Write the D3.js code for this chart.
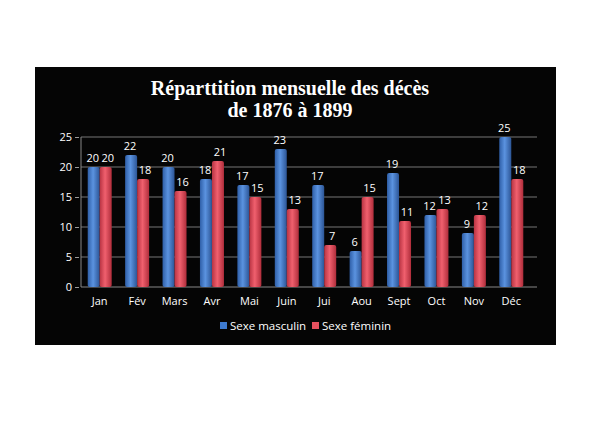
<!DOCTYPE html><html><head><meta charset="utf-8"><script src="https://cdn.jsdelivr.net/npm/d3@7"></script>
<style>body{margin:0;background:#fff}</style></head><body><svg id="c" width="600" height="436"></svg><script>
const months=["Jan","Fév","Mars","Avr","Mai","Juin","Jui","Aou","Sept","Oct","Nov","Déc"];
const male=[20,22,20,18,17,23,17,6,19,12,9,25];
const female=[20,18,16,21,15,13,7,15,11,13,12,18];
const yTicks=[0,5,10,15,20,25];
const svg=d3.select("#c");
const defs=svg.append("defs");
function grad(id,c1,c2,c3){const g=defs.append("linearGradient").attr("id",id);g.append("stop").attr("offset","0").attr("stop-color",c1);g.append("stop").attr("offset","0.45").attr("stop-color",c2);g.append("stop").attr("offset","1").attr("stop-color",c3);}
grad("gb","#2f5fa8","#5b93e0","#2c5596");grad("gr","#b83342","#f0606e","#b02d3b");
svg.append("rect").attr("x",35).attr("y",67).attr("width",521).attr("height",278).attr("fill","#050505");
svg.append("text").attr("x",290).attr("y",95).attr("text-anchor","middle").attr("fill","#fff").attr("font-family","Liberation Serif").attr("font-weight","bold").attr("font-size",20).text("Réparttition mensuelle des décès");
svg.append("text").attr("x",290).attr("y",117).attr("text-anchor","middle").attr("fill","#fff").attr("font-family","Liberation Serif").attr("font-weight","bold").attr("font-size",20).text("de 1876 à 1899");
const x=d3.scaleBand().domain(months).range([81,530]);
const y=d3.scaleLinear().domain([0,25]).range([287,137]);
const g=svg.append("g");
yTicks.forEach(t=>{g.append("line").attr("x1",81).attr("x2",537).attr("y1",y(t)).attr("y2",y(t)).attr("stroke",t==0?"#888":"#777").attr("stroke-width",1.2);});
g.append("line").attr("x1",81).attr("x2",81).attr("y1",y(0)).attr("y2",y(25)).attr("stroke","#888");
const ya=svg.append("g").attr("transform","translate(79,0)").call(d3.axisLeft(y).tickValues(yTicks).tickSize(4));
ya.select(".domain").remove();ya.selectAll("line").attr("stroke","#999");
ya.selectAll("text").attr("fill","#fff").attr("font-family","Open Sans").attr("font-size",11);
const xa=svg.append("g").attr("transform","translate(0,"+(y(0)+2)+")").call(d3.axisBottom(x).tickSize(0).tickPadding(8));
xa.select(".domain").remove();xa.selectAll("text").attr("fill","#fff").attr("font-family","Open Sans").attr("font-size",11);
const bw=12;
function bars(data,off,fill){
 svg.append("g").selectAll("rect").data(data).join("rect").attr("x",(d,i)=>x(months[i])+x.bandwidth()/2+off).attr("width",bw).attr("y",d=>y(d)).attr("height",d=>y(0)-y(d)).attr("rx",2).attr("fill",fill);
}
bars(male,-bw,"url(#gb)");bars(female,0,"url(#gr)");
function labels(data,off){svg.append("g").selectAll("text").data(data).join("text").attr("x",(d,i)=>x(months[i])+x.bandwidth()/2+off).attr("y",d=>y(d)-5).attr("text-anchor","middle").attr("fill","#fff").attr("font-family","Open Sans").attr("font-size",11).text(d=>d);}
labels(male,-bw/2-1);labels(female,bw/2+2);
const lg=svg.append("g");
lg.append("rect").attr("x",220).attr("y",322).attr("width",7).attr("height",7).attr("fill","#3d7ad0");
lg.append("text").attr("x",230).attr("y",330).attr("fill","#fff").attr("font-family","Open Sans").attr("font-size",11.5).text("Sexe masculin");
lg.append("rect").attr("x",312).attr("y",322).attr("width",7).attr("height",7).attr("fill","#e5505e");
lg.append("text").attr("x",322).attr("y",330).attr("fill","#fff").attr("font-family","Open Sans").attr("font-size",11.5).text("Sexe féminin");
</script></body></html>
